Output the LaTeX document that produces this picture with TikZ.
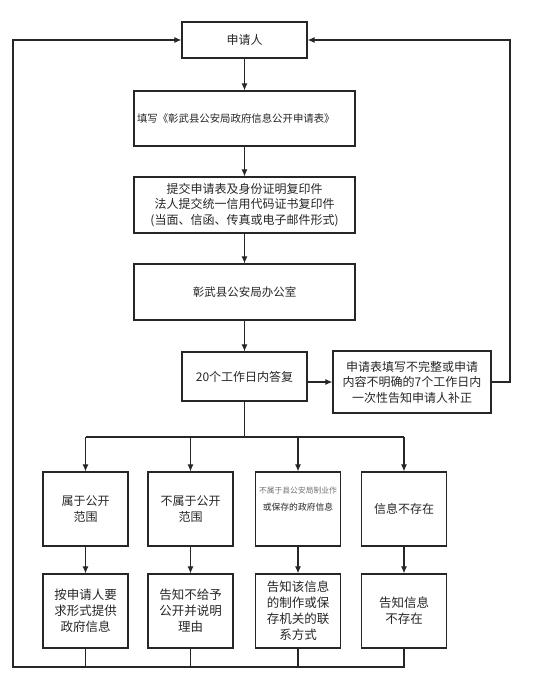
\documentclass[tikz,border=0pt]{standalone}
\usepackage{fontspec}
\newfontfamily\cjk{Noto Sans CJK SC}
\usetikzlibrary{arrows.meta}
\tikzset{box/.style={draw=black!85,line width=1.2pt,inner sep=2pt,align=center,
        font=\cjk\fontsize{12}{15.5}\selectfont,text=black!85},
    arr/.style={-{Latex[length=7pt,width=6pt]}},
    link/.style={draw=black!85,line width=1.1pt}
}
\begin{document}
\begin{tikzpicture}[x=1pt,y=-1pt]
    \useasboundingbox (0,0) rectangle (543,699);

    % Main column
    \node[box,minimum width=125,minimum height=36] (app) at (244.5,40) {申请人};
    \node[box,minimum width=221,minimum height=55,text width=215,align=left,
        font=\cjk\fontsize{10.4}{13}\selectfont] (form) at (244.5,118.5) {填写《彰武县公安局政府信息公开申请表》};
    \node[box,minimum width=221,minimum height=56] (submit) at (244.5,205)
        {提交申请表及身份证明复印件\\法人提交统一信用代码证书复印件\\(当面、信函、传真或电子邮件形式)};
    \node[box,minimum width=221,minimum height=56,font=\cjk\fontsize{11.5}{14}\selectfont] (office) at (244.5,292) {彰武县公安局办公室};
    \node[box,minimum width=125,minimum height=49] (reply) at (244.5,376.5) {20个工作日内答复};
    \node[box,minimum width=158,minimum height=62] (correct) at (412,382)
        {申请表填写不完整或申请\\内容不明确的7个工作日内\\一次性告知申请人补正};

    % Branches
    \node[box,minimum width=85,minimum height=74] (pubA) at (85.5,509) {属于公开\\范围};
    \node[box,minimum width=85,minimum height=74] (pubB) at (190.5,509) {不属于公开\\范围};
    \node[box,minimum width=85,minimum height=74,font=\cjk\fontsize{8.8}{17}\selectfont] (pubC) at (298,509)
        {{\color{black!55}\fontsize{7.8}{9}\selectfont 不属于县公安局制业作}\\或保存的政府信息\\[4pt]};
    \node[box,minimum width=85,minimum height=74] (pubD) at (404,509) {信息不存在};

    \node[box,minimum width=85,minimum height=74,font=\cjk\fontsize{12.5}{16}\selectfont] (resA) at (85.5,611) {按申请人要\\求形式提供\\政府信息};
    \node[box,minimum width=85,minimum height=74,font=\cjk\fontsize{12.5}{16}\selectfont] (resB) at (190.5,611) {告知不给予\\公开并说明\\理由};
    \node[box,minimum width=85,minimum height=74,font=\cjk\fontsize{12.5}{16}\selectfont] (resC) at (298,611) {告知该信息\\的制作或保\\存机关的联\\系方式};
    \node[box,minimum width=85,minimum height=74,font=\cjk\fontsize{12.5}{16}\selectfont] (resD) at (404,611) {告知信息\\不存在};

    \coordinate (bus) at (244.5,437);
    \coordinate (base) at (13,667);
    \coordinate (rside) at (510,0);

    % Arrows down the main column
    \draw[link,arr] (app) -- (form);
    \draw[link,arr] (form) -- (submit);
    \draw[link,arr] (submit) -- (office);
    \draw[link,arr] (office) -- (reply);
    \draw[link,arr] (reply.east |- correct.west) -- (correct.west);

    % Split to the four cases
    \draw[link] (reply) -- (bus);
    \draw[link] (pubA.north |- bus) -- (pubD.north |- bus);
    \foreach \n in {A,B,C,D}{
        \draw[link,arr] (pub\n.north |- bus) -- (pub\n.north);
        \draw[link,arr] (pub\n) -- (res\n);
    }

    % Feedback to applicant
    \foreach \n in {A,B,C}{
        \draw[link] (res\n.south) -- (res\n.south |- base);
    }
    \draw[link,arr] (resD.south) -- (resD.south |- base) -- (base) -- (base |- app.west) -- (app.west);
    \draw[link,arr] (correct.east) -- (rside |- correct.east) -- (rside |- app.east) -- (app.east);
\end{tikzpicture}
\end{document}
